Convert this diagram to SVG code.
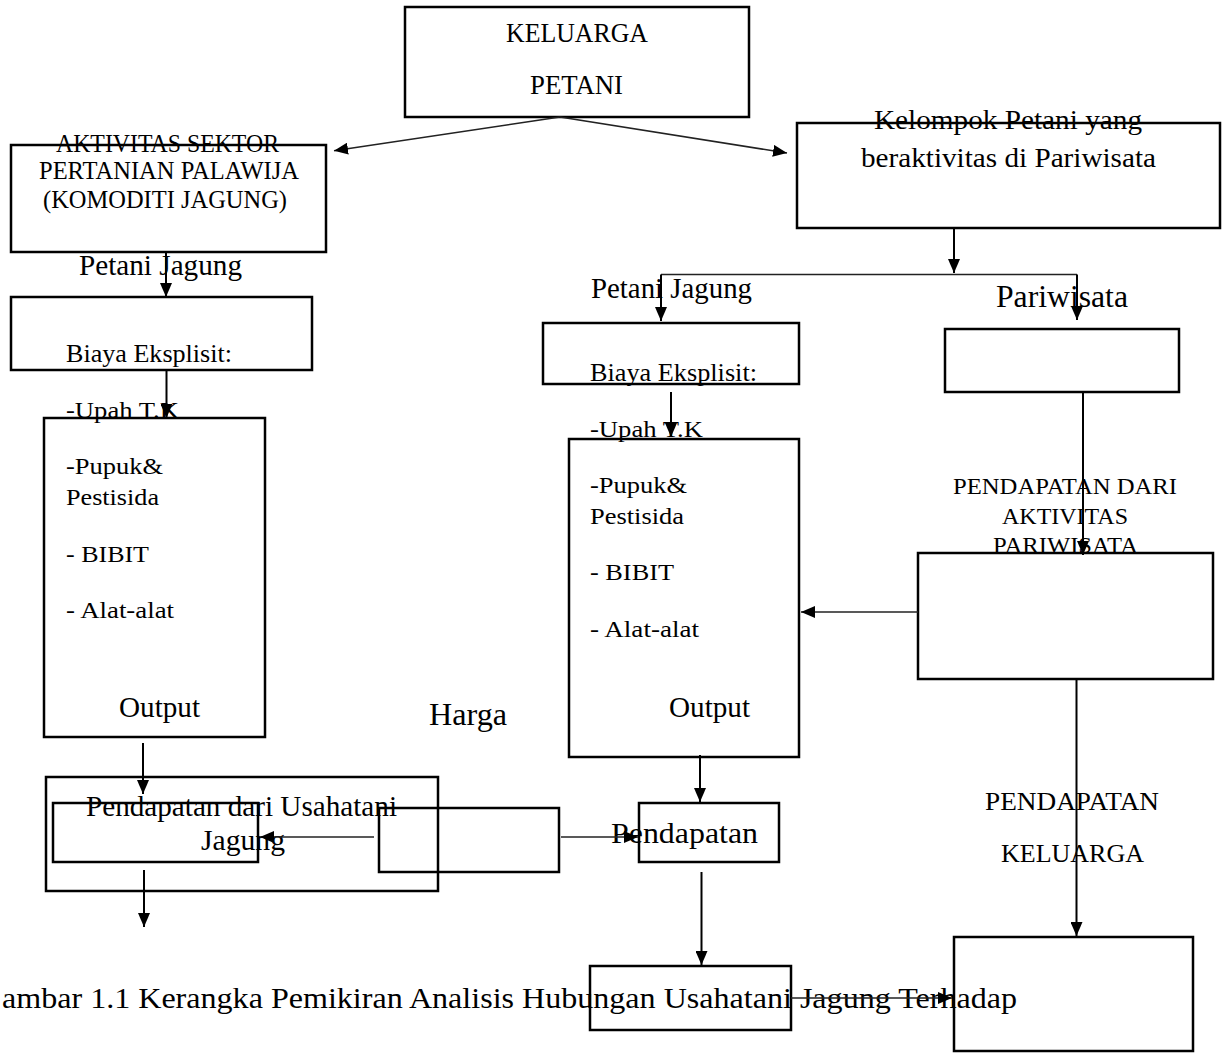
<svg xmlns="http://www.w3.org/2000/svg" width="1225" height="1053" viewBox="0 0 1225 1053">
<style>
.box{fill:none;stroke:#000;stroke-width:2.5}
.ln{fill:none;stroke:#000;stroke-width:2}
.ln2{fill:none;stroke:#222;stroke-width:1.6}
text{font-family:"Liberation Serif","Times New Roman",serif;fill:#000}
</style>
<defs>
<marker id="ah" markerUnits="userSpaceOnUse" markerWidth="14" markerHeight="12" refX="14" refY="6" orient="auto">
<path d="M0,0 L14,6 L0,12 z" fill="#000"/>
</marker>
</defs>
<rect width="1225" height="1053" fill="#fff"/>

<g id="keluarga-petani">
<rect class="box" x="405" y="7" width="344" height="110"/>
<text x="506" y="42" font-size="27" textLength="142" lengthAdjust="spacingAndGlyphs">KELUARGA</text>
<text x="530" y="94" font-size="27" textLength="93" lengthAdjust="spacingAndGlyphs">PETANI</text>
</g>

<g id="aktivitas-sektor">
<rect class="box" x="11" y="145" width="315" height="107"/>
<text x="56" y="152" font-size="25" textLength="223" lengthAdjust="spacingAndGlyphs">AKTIVITAS SEKTOR</text>
<text x="39" y="179" font-size="25" textLength="260" lengthAdjust="spacingAndGlyphs">PERTANIAN PALAWIJA</text>
<text x="43" y="208" font-size="25" textLength="244" lengthAdjust="spacingAndGlyphs">(KOMODITI JAGUNG)</text>
</g>

<g id="kelompok-petani">
<rect class="box" x="797" y="123" width="423" height="105"/>
<text x="874" y="129" font-size="28" textLength="268" lengthAdjust="spacingAndGlyphs">Kelompok Petani yang</text>
<text x="861" y="167" font-size="28" textLength="295" lengthAdjust="spacingAndGlyphs">beraktivitas di Pariwisata</text>
</g>

<g id="label-petani-jagung-left">
<text x="79" y="275" font-size="30" textLength="163" lengthAdjust="spacingAndGlyphs">Petani Jagung</text>
</g>
<g id="label-petani-jagung-mid">
<text x="591" y="298" font-size="30" textLength="161" lengthAdjust="spacingAndGlyphs">Petani Jagung</text>
</g>
<g id="label-pariwisata">
<text x="996" y="307" font-size="31" textLength="132" lengthAdjust="spacingAndGlyphs">Pariwisata</text>
</g>

<g id="biaya-left">
<rect class="box" x="11" y="297" width="301" height="73"/>
<text x="66" y="362" font-size="25" textLength="166" lengthAdjust="spacingAndGlyphs">Biaya Eksplisit:</text>
</g>
<g id="output-left">
<rect class="box" x="44" y="418" width="221" height="319"/>
<text x="66" y="418" font-size="24" textLength="113" lengthAdjust="spacingAndGlyphs">-Upah T.K</text>
<text x="66" y="474" font-size="24" textLength="97" lengthAdjust="spacingAndGlyphs">-Pupuk&amp;</text>
<text x="66" y="505" font-size="24" textLength="93" lengthAdjust="spacingAndGlyphs">Pestisida</text>
<text x="66" y="562" font-size="24" textLength="83" lengthAdjust="spacingAndGlyphs">- BIBIT</text>
<text x="66" y="618" font-size="24" textLength="108" lengthAdjust="spacingAndGlyphs">- Alat-alat</text>
<text x="119" y="717" font-size="30" textLength="81" lengthAdjust="spacingAndGlyphs">Output</text>
</g>

<g id="biaya-mid">
<rect class="box" x="543" y="323" width="256" height="61"/>
<text x="590" y="381" font-size="25" textLength="167" lengthAdjust="spacingAndGlyphs">Biaya Eksplisit:</text>
</g>
<g id="output-mid">
<rect class="box" x="569" y="439" width="230" height="318"/>
<text x="590" y="437" font-size="24" textLength="113" lengthAdjust="spacingAndGlyphs">-Upah T.K</text>
<text x="590" y="493" font-size="24" textLength="97" lengthAdjust="spacingAndGlyphs">-Pupuk&amp;</text>
<text x="590" y="524" font-size="24" textLength="94" lengthAdjust="spacingAndGlyphs">Pestisida</text>
<text x="590" y="580" font-size="24" textLength="84" lengthAdjust="spacingAndGlyphs">- BIBIT</text>
<text x="590" y="637" font-size="24" textLength="109" lengthAdjust="spacingAndGlyphs">- Alat-alat</text>
<text x="669" y="717" font-size="30" textLength="81" lengthAdjust="spacingAndGlyphs">Output</text>
</g>

<g id="pariwisata-box">
<rect class="box" x="945" y="329" width="234" height="63"/>
</g>

<g id="pendapatan-aktivitas">
<text x="953" y="494" font-size="23" textLength="224" lengthAdjust="spacingAndGlyphs">PENDAPATAN DARI</text>
<text x="1002" y="524" font-size="23" textLength="126" lengthAdjust="spacingAndGlyphs">AKTIVITAS</text>
<text x="993" y="553" font-size="23" textLength="145" lengthAdjust="spacingAndGlyphs">PARIWISATA</text>
<rect class="box" x="918" y="553" width="295" height="126"/>
</g>

<g id="label-harga">
<text x="429" y="725" font-size="31" textLength="78" lengthAdjust="spacingAndGlyphs">Harga</text>
</g>

<g id="pendapatan-usahatani">
<rect class="box" x="46" y="777" width="392" height="114"/>
<rect class="box" x="53" y="803" width="205" height="59"/>
<text x="86" y="816" font-size="30" textLength="311" lengthAdjust="spacingAndGlyphs">Pendapatan dari Usahatani</text>
<text x="201" y="850" font-size="30" textLength="84" lengthAdjust="spacingAndGlyphs">Jagung</text>
</g>

<g id="harga-box">
<rect class="box" x="379" y="808" width="180" height="64"/>
</g>

<g id="pendapatan">
<rect class="box" x="639" y="803" width="140" height="59"/>
<text x="611" y="843" font-size="30" textLength="147" lengthAdjust="spacingAndGlyphs">Pendapatan</text>
</g>

<g id="pendapatan-keluarga-label">
<text x="985" y="810" font-size="26" textLength="174" lengthAdjust="spacingAndGlyphs">PENDAPATAN</text>
<text x="1001" y="862" font-size="26" textLength="143" lengthAdjust="spacingAndGlyphs">KELUARGA</text>
</g>

<g id="hubungan-box">
<rect class="box" x="590" y="966" width="201" height="64"/>
</g>

<g id="keluarga-box">
<rect class="box" x="954" y="937" width="239" height="114"/>
</g>

<g id="caption">
<text x="2" y="1008" font-size="30" textLength="1015" lengthAdjust="spacingAndGlyphs">ambar 1.1 Kerangka Pemikiran Analisis Hubungan Usahatani Jagung Terhadap</text>
</g>

<g id="connectors">
<line class="ln2" x1="560" y1="117" x2="334" y2="150.7" marker-end="url(#ah)"/>
<line class="ln2" x1="560" y1="117" x2="787" y2="153" marker-end="url(#ah)"/>
<line class="ln" x1="166" y1="252" x2="166" y2="297" marker-end="url(#ah)"/>
<line class="ln" x1="166.5" y1="370" x2="166.5" y2="418" marker-end="url(#ah)"/>
<line class="ln" x1="143" y1="743" x2="143" y2="794" marker-end="url(#ah)"/>
<line class="ln" x1="144" y1="870" x2="144" y2="927" marker-end="url(#ah)"/>
<line class="ln2" x1="374" y1="837" x2="260" y2="837" marker-end="url(#ah)"/>
<line class="ln2" x1="561" y1="837" x2="638" y2="837" marker-end="url(#ah)"/>
<line class="ln" x1="954" y1="228" x2="954" y2="273" marker-end="url(#ah)"/>
<polyline class="ln2" points="661,274.5 1077,274.5"/>
<line class="ln" x1="661" y1="274.5" x2="661" y2="321" marker-end="url(#ah)"/>
<line class="ln" x1="1077" y1="274.5" x2="1077" y2="320" marker-end="url(#ah)"/>
<line class="ln" x1="671" y1="392" x2="671" y2="437" marker-end="url(#ah)"/>
<line class="ln" x1="1083" y1="392" x2="1083" y2="555" marker-end="url(#ah)"/>
<line class="ln2" x1="918" y1="612" x2="801" y2="612" marker-end="url(#ah)"/>
<line class="ln" x1="700" y1="755" x2="700" y2="802" marker-end="url(#ah)"/>
<line class="ln" x1="701.5" y1="872" x2="701.5" y2="965" marker-end="url(#ah)"/>
<line class="ln" x1="1076.5" y1="679" x2="1076.5" y2="936" marker-end="url(#ah)"/>
<line class="ln2" x1="791" y1="998" x2="952" y2="998" marker-end="url(#ah)"/>
</g>
</svg>
